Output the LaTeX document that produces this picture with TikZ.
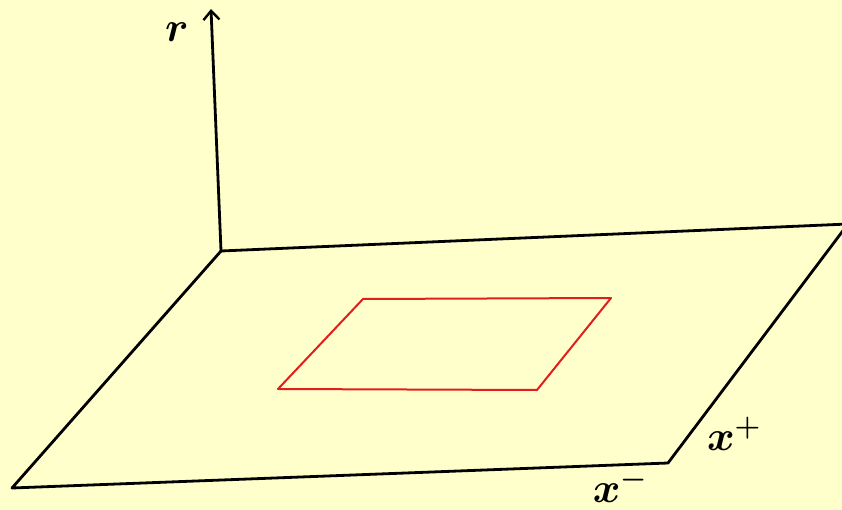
\RequirePackage{fix-cm}
\documentclass[tikz,border=0pt]{standalone}
\usetikzlibrary{arrows.meta}
\definecolor{bgyellow}{RGB}{255,255,204}
\definecolor{rectred}{RGB}{225,30,30}
\tikzset{
  edge/.style={draw=black, line width=2.8pt, line join=round, line cap=round},
  loop/.style={draw=rectred, line width=2pt, line join=round},
  lab/.style={font=\fontsize{42}{44}\selectfont\boldmath, inner sep=0pt}
}
\begin{document}
\begin{tikzpicture}[x=1pt,y=-1pt]
\useasboundingbox (0,0) rectangle (842,510);
\fill[bgyellow] (0,0) rectangle (842,510);
% corners
\coordinate (O) at (221,251);
\coordinate (BR) at (848,224);
\coordinate (FR) at (668,463);
\coordinate (FL) at (12,488);
\coordinate (top) at (211,9);
\coordinate (a) at (363,299);
\coordinate (b) at (611,298);
\coordinate (c) at (537,390);
\coordinate (d) at (278,389);
% plane
\draw[edge] (O) -- (BR);
\draw[edge] (BR) -- (FR) -- (FL) -- (O);
% axis
\draw[edge, -{Straight Barb[length=9pt,width=16pt,line width=2.4pt]}] (O) -- (top);
% red loop
\draw[loop] (a) -- (b) -- (c) -- (d) -- cycle;
% labels
\node[lab] (r) at (177,32) {$r$};
\node[lab] (xp) at (734,434) {$x^+$};
\node[lab] (xm) at (620,486) {$x^-$};
\end{tikzpicture}
\end{document}
